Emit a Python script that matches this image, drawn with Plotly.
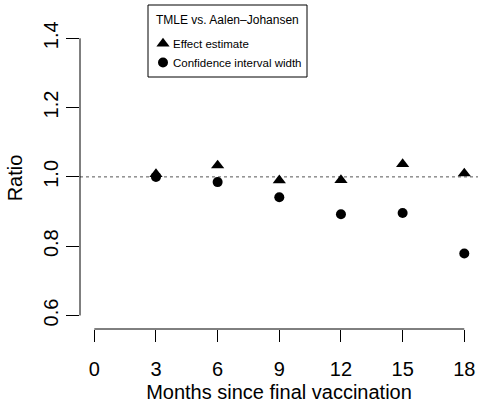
import plotly.graph_objects as go

months = [3, 6, 9, 12, 15, 18]
effect_estimate = [1.008, 1.033, 0.990, 0.991, 1.037, 1.010]
ci_width = [1.000, 0.985, 0.941, 0.892, 0.896, 0.779]
x_ticks = [0, 3, 6, 9, 12, 15, 18]
y_ticks = [0.6, 0.8, 1.0, 1.2, 1.4]
y_tick_labels = ["0.6", "0.8", "1.0", "1.2", "1.4"]
legend_title = "TMLE vs. Aalen\u2013Johansen"
series_names = ["Effect estimate", "Confidence interval width"]

FONT = "Liberation Sans, Arial, Helvetica, sans-serif"
W, H = 478, 403
ML, MR, MT, MB = 80, 0, 27, 74
PW, PH = W - ML - MR, H - MT - MB
LEG_TITLE_FONT = 12
LEG_FONT = 11.5


def px(x):
    return (x - ML) / PW


def py(y):
    return (H - MB - y) / PH


fig = go.Figure()
fig.add_trace(go.Scatter(
    x=months, y=effect_estimate, mode="markers", name=series_names[0],
    marker=dict(symbol="triangle-up", size=11.5, color="black", line=dict(width=0)),
))
fig.add_trace(go.Scatter(
    x=months, y=ci_width, mode="markers", name=series_names[1],
    marker=dict(symbol="circle", size=10, color="black", line=dict(width=0)),
))

# reference line at ratio 1
fig.add_shape(type="line", xref="paper", x0=0, x1=1, yref="y", y0=1, y1=1,
              line=dict(color="#555555", width=1, dash="dot"), layer="below")
# R-style axis lines spanning first to last tick
fig.add_shape(type="line", xref="x", x0=min(x_ticks), x1=max(x_ticks), yref="paper", y0=0, y1=0,
              line=dict(color="black", width=1))
fig.add_shape(type="line", xref="paper", x0=0, x1=0, yref="y", y0=min(y_ticks), y1=max(y_ticks),
              line=dict(color="black", width=1))

# R-style legend box
fig.add_shape(type="rect", xref="paper", yref="paper",
              x0=px(148), x1=px(307), y0=py(77), y1=py(5),
              line=dict(color="black", width=1), fillcolor="white")
fig.add_annotation(text=legend_title, xref="paper", yref="paper", x=px(227.5), y=py(20),
                   xanchor="center", yanchor="middle", showarrow=False,
                   font=dict(size=LEG_TITLE_FONT, family=FONT, color="black"))
key_x = px(163)
text_x = px(170.5)
for name, yy in zip(series_names, [43.5, 62.5]):
    fig.add_annotation(text=name, xref="paper", yref="paper", x=text_x, y=py(yy),
                       xanchor="left", yanchor="middle", showarrow=False,
                       font=dict(size=LEG_FONT, family=FONT, color="black"))
# legend keys (pixel-sized symbols)
r = 5.75
rt = r * 2 / 3 ** 0.5
fig.add_shape(type="path", xref="paper", yref="paper", xsizemode="pixel", ysizemode="pixel",
              xanchor=key_x, yanchor=py(43.5),
              path=f"M {-rt:.2f},{-r/2:.2f} L {rt:.2f},{-r/2:.2f} L 0,{r:.2f} Z",
              fillcolor="black", line=dict(width=0))
fig.add_shape(type="circle", xref="paper", yref="paper", xsizemode="pixel", ysizemode="pixel",
              xanchor=key_x, yanchor=py(62.5), x0=-5, x1=5, y0=-5, y1=5,
              fillcolor="black", line=dict(width=0))

fig.update_layout(
    width=W, height=H,
    margin=dict(l=ML, r=MR, t=MT, b=MB),
    paper_bgcolor="white", plot_bgcolor="white",
    font=dict(family=FONT, color="black", size=20),
    showlegend=False,
    xaxis=dict(
        range=[-0.696, 18.667], tickmode="array", tickvals=x_ticks,
        ticktext=[str(v) for v in x_ticks],
        ticks="outside", ticklen=12, tickcolor="black", tickwidth=1,
        ticklabelstandoff=10,
        showgrid=False, zeroline=False, showline=False, automargin=False,
        title=dict(text="Months since final vaccination", standoff=8, font=dict(size=20)),
        tickfont=dict(size=20),
    ),
    yaxis=dict(
        range=[0.561, 1.4326], tickmode="array", tickvals=y_ticks, ticktext=y_tick_labels,
        ticks="outside", ticklen=13, tickcolor="black", tickwidth=1, tickangle=-90,
        showgrid=False, zeroline=False, showline=False, automargin=False,
        title=dict(text="Ratio", standoff=12, font=dict(size=20)),
        tickfont=dict(size=20),
    ),
)

fig.write_html(
    "out.html",
    config={"displayModeBar": False},
    post_script="document.body.style.margin='0';document.body.style.overflow='hidden';",
)
